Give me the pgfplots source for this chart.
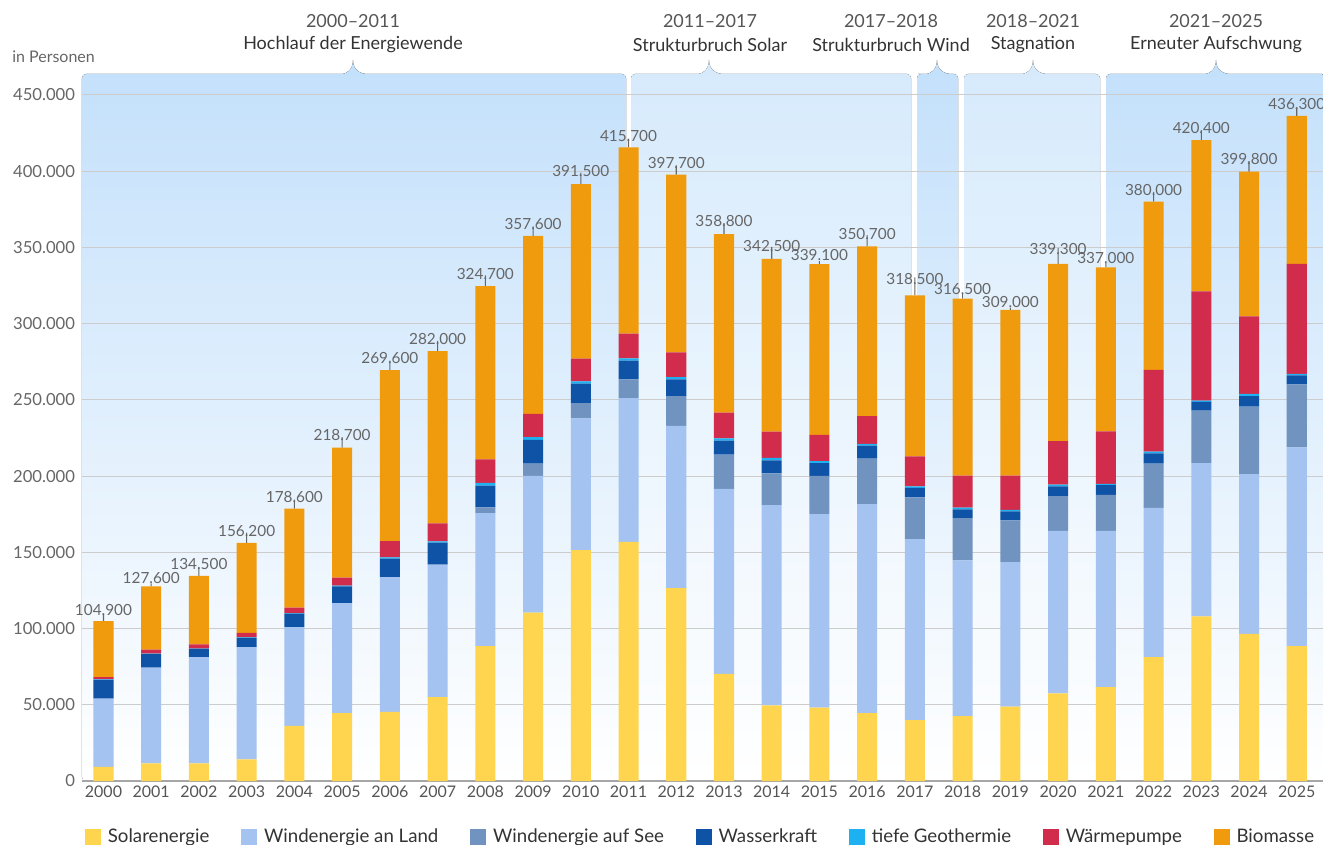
\documentclass[border=0pt]{standalone}
\usepackage{pgfplots}
\pgfplotsset{compat=1.18}
\usepackage{pgfplotstable}
\usepackage{fontspec}
\setmainfont{Lato}
\definecolor{cSol}{HTML}{FFD54F}
\definecolor{cLand}{HTML}{A4C3F0}
\definecolor{cSee}{HTML}{7093C0}
\definecolor{cWass}{HTML}{0F53A6}
\definecolor{cGeo}{HTML}{1DB1F2}
\definecolor{cWP}{HTML}{D12C4B}
\definecolor{cBio}{HTML}{F09A0D}
\definecolor{tgray}{HTML}{666666}
\definecolor{tyear}{HTML}{555555}
\definecolor{tdark}{HTML}{333333}
\definecolor{boxA}{HTML}{C3E0FB}
\definecolor{boxB}{HTML}{D6EAFC}

\pgfplotstableread{
x sol land see wass geo wp bio tick lab
0 9200 44800 0 12300 300 1600 36700 4900 104.900
1 11600 62700 0 9000 300 2500 41500 2100 127.600
2 11600 69700 0 5300 300 2700 44900 6000 134.500
3 14200 73700 0 6000 300 2900 59100 6700 156.200
4 36100 64900 0 8800 400 3500 64900 6000 178.600
5 44600 72100 0 11000 400 5300 85300 6900 218.700
6 45300 88500 0 12000 900 10700 112200 6200 269.600
7 55100 86800 0 14400 900 11800 113000 6700 282.000
8 88400 87400 3700 14200 1900 15300 113800 6900 324.700
9 110400 89800 8000 15500 1900 15300 116700 6200 357.600
10 151400 86500 10000 12800 1400 15000 114400 7500 391.500
11 156800 94300 12300 12300 1600 16100 122300 5600 415.700
12 126500 106400 19500 11000 1600 16100 116600 6200 397.700
13 70200 121400 22500 9100 1600 16900 117100 7200 358.800
14 49600 131300 20900 8500 1600 17200 113400 7900 342.500
15 48200 126800 25200 8300 1300 17200 112100 2000 339.100
16 44500 137200 29700 8600 1100 18200 111400 7400 350.700
17 39900 118700 27400 6300 900 19700 105600 11800 318.500
18 42500 102200 27700 5800 1200 21000 116100 3100 316.500
19 48800 94700 27500 5800 1100 22500 108600 1600 309.000
20 57500 106500 22900 6300 1200 28600 116300 10400 339.300
21 61500 102500 23700 6400 800 34400 107700 2900 337.000
22 81200 97900 29100 6700 1100 53700 110300 6400 380.000
23 108000 100500 34400 5800 800 71700 99200 6600 420.400
24 96500 104800 44200 6900 1500 50800 95100 6900 399.800
25 88400 130500 41300 5800 1100 72200 97000 5600 436.300
}\data

% period box in pixel coordinates: x1, x2, bump centre, colour
\newcommand{\pbox}[4]{%
  \fill[top color=#4, bottom color=white]
    (#1,781) [rounded corners=3] -- (#1,74) -- ({#3-15},74) [sharp corners]
    .. controls ({#3-7},74) and (#3,70) .. (#3,60)
    .. controls (#3,70) and ({#3+7},74) .. ({#3+15},74)
    [rounded corners=3] -- (#2,74) -- (#2,781) -- cycle;}
\newcommand{\ptitle}[3]{%
  \node[font=\fontsize{13.5}{15}\selectfont, text=tyear, inner sep=0] at (#1,21) {#2};
  \node[font=\fontsize{13.5}{15}\selectfont, text=tdark, inner sep=0] at (#1,45) {#3};}

\begin{document}
\begin{tikzpicture}
\useasboundingbox (-61.5pt,-48pt) rectangle (930.75pt,585.75pt);
\begin{scope}[shift={(-61.5pt,585.75pt)}, x=0.75pt, y=-0.75pt]
  \pbox{82}{626}{353}{boxA}
  \pbox{631}{911}{709}{boxB}
  \pbox{917}{958}{937}{boxA}
  \pbox{964}{1100}{1033}{boxB}
  \pbox{1106}{1326}{1216}{boxA}
  \ptitle{353}{2000–2011}{Hochlauf der Energiewende}
  \ptitle{710}{2011–2017}{Strukturbruch Solar}
  \ptitle{891}{2017–2018}{Strukturbruch Wind}
  \ptitle{1033}{2018–2021}{Stagnation}
  \ptitle{1216}{2021–2025}{Erneuter Aufschwung}
  \node[anchor=west, inner sep=0, font=\fontsize{12}{14}\selectfont, text=tgray] at (12,57) {in Personen};
\end{scope}
\begin{axis}[
  at={(0,0)}, anchor=south west,
  width=930.75pt, height=514.5pt, scale only axis,
  xmin=-0.45, xmax=25.55, ymin=0, ymax=450000,
  clip=false,
  scaled y ticks=false,
  ybar stacked, bar width=0.42,
  axis x line*=bottom, axis y line*=left,
  x axis line style={draw=black!35, line width=1.1pt},
  y axis line style={draw=none},
  major tick length=0pt,
  xtick={0,...,25},
  xticklabels={2000,2001,2002,2003,2004,2005,2006,2007,2008,2009,2010,2011,2012,2013,2014,2015,2016,2017,2018,2019,2020,2021,2022,2023,2024,2025},
  xticklabel style={font=\fontsize{12}{14}\selectfont, text=tyear},
  ytick={0,50000,100000,150000,200000,250000,300000,350000,400000,450000},
  yticklabels={0,50.000,100.000,150.000,200.000,250.000,300.000,350.000,400.000,450.000},
  yticklabel style={font=\fontsize{12.5}{14}\selectfont, text=tgray, anchor=east, inner sep=0pt, xshift=-5pt},
  ymajorgrids, grid style={draw=black!20, line width=0.75pt},
  legend columns=7,
  legend style={at={(0.0024,-0.0816)}, anchor=west, draw=none, fill=none, inner sep=0pt,
    font=\fontsize{14}{16}\selectfont, text=tdark,
    /tikz/every odd column/.append style={column sep=3pt},
    /tikz/every even column/.append style={column sep=22pt}},
  legend cell align=left,
  legend image code/.code={\fill[#1] (0pt,-6pt) rectangle (12pt,6pt);},
]
\addplot[fill=cSol, draw=none] table[x=x, y=sol]{\data};
\addplot[fill=cLand, draw=none] table[x=x, y=land]{\data};
\addplot[fill=cSee, draw=none] table[x=x, y=see]{\data};
\addplot[fill=cWass, draw=none] table[x=x, y=wass]{\data};
\addplot[fill=cGeo, draw=none] table[x=x, y=geo]{\data};
\addplot[fill=cWP, draw=none] table[x=x, y=wp]{\data};
\addplot[fill=cBio, draw=none] table[x=x, y=bio]{\data};
\addplot[forget plot, fill=black!60, draw=none, bar width=0.8pt,
  point meta=explicit symbolic,
  nodes near coords,
  every node near coord/.style={anchor=south, inner sep=1pt, font=\fontsize{11.5}{13}\selectfont, text=tgray}]
  table[x=x, y=tick, meta=lab]{\data};
\legend{Solarenergie, Windenergie an Land, Windenergie auf See, Wasserkraft, tiefe Geothermie, Wärmepumpe, Biomasse}
\end{axis}
\end{tikzpicture}
\end{document}
